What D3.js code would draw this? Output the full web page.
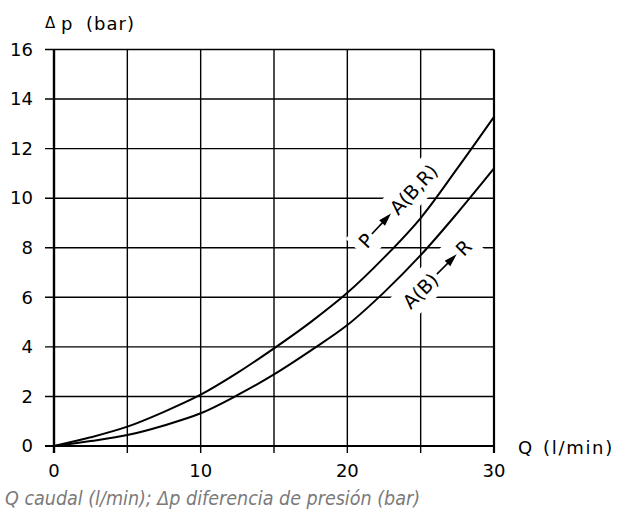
<!DOCTYPE html>
<html>
<head>
<meta charset="utf-8">
<script src="https://cdn.jsdelivr.net/npm/d3@7"></script>
<style>
  body { margin: 0; background: #fff; }
  text { font-family: "DejaVu Sans", sans-serif; }
</style>
</head>
<body>
<script>
// data
const flowQ = [0, 2.5, 5, 7.5, 10, 12.5, 15, 17.5, 20, 22.5, 25, 27.5, 30];
const dpPtoA = [0, 0.35, 0.78, 1.38, 2.07, 2.95, 3.94, 5.0, 6.18, 7.6, 9.2, 11.2, 13.28];
const dpAtoR = [0, 0.2, 0.44, 0.83, 1.32, 2.05, 2.89, 3.85, 4.88, 6.2, 7.7, 9.4, 11.2];
const xTicks = [0, 10, 20, 30];
const xGrid = [0, 5, 10, 15, 20, 25, 30];
const yTicks = [0, 2, 4, 6, 8, 10, 12, 14, 16];

const margin = {top: 49.5, right: 123, bottom: 67, left: 54};
const W = 617, H = 513;

const svg = d3.select("body").append("svg")
    .attr("width", W)
    .attr("height", H);

const x = d3.scaleLinear().domain([0, 30]).range([margin.left, W - margin.right]);
const y = d3.scaleLinear().domain([0, 16]).range([H - margin.bottom, margin.top]);

// grid
svg.append("g").selectAll("line.v")
    .data(xGrid)
    .join("line")
    .attr("x1", d => x(d)).attr("x2", d => x(d))
    .attr("y1", y(16)).attr("y2", y(0) + 7)
    .attr("stroke", "#000")
    .attr("stroke-width", d => d == 0 ? 2.4 : (d == 30 ? 2.2 : 1.4));

svg.append("g").selectAll("line.h")
    .data(yTicks)
    .join("line")
    .attr("x1", x(0) - 9).attr("x2", x(30))
    .attr("y1", d => y(d)).attr("y2", d => y(d))
    .attr("stroke", "#000")
    .attr("stroke-width", d => d == 0 ? 2.2 : 1.4);

// tick labels
svg.append("g").selectAll("text")
    .data(yTicks)
    .join("text")
    .attr("x", 33)
    .attr("y", d => y(d))
    .attr("dy", "0.35em")
    .attr("text-anchor", "end")
    .attr("font-size", 18)
    .text(d => d);

svg.append("g").selectAll("text")
    .data(xTicks)
    .join("text")
    .attr("x", d => x(d))
    .attr("y", 477)
    .attr("text-anchor", "middle")
    .attr("font-size", 18)
    .text(d => d);

// axis titles
const yt = svg.append("text").attr("y", 30).attr("font-size", 18);
yt.append("tspan").attr("x", 45).attr("font-size", 15).attr("dy", -2).text("\u0394");
yt.append("tspan").attr("x", 61).attr("dy", 2).text("p");
yt.append("tspan").attr("x", 86).style("letter-spacing", "1px").text("(bar)");

const xt = svg.append("text").attr("y", 454).attr("font-size", 18);
xt.append("tspan").attr("x", 518).text("Q");
xt.append("tspan").attr("x", 543).style("letter-spacing", "1.7px").text("(l/min)");

// curve labels (white box behind them cuts the grid)
function curveLabel(cx, cy, angle, left, right) {
  const g = svg.append("g").attr("transform", `translate(${cx},${cy}) rotate(${angle})`);
  const bg = g.append("rect").attr("fill", "#fff");
  const t1 = g.append("text").attr("font-size", 19).attr("dominant-baseline", "central").text(left);
  const w1 = t1.node().getComputedTextLength();
  const arrowLen = 28, gap = 3;
  const t2 = g.append("text").attr("font-size", 19).attr("dominant-baseline", "central").text(right);
  const w2 = t2.node().getComputedTextLength();
  const total = w1 + gap + arrowLen + gap + w2;
  const x0 = -total / 2;
  t1.attr("x", x0);
  const ax0 = x0 + w1 + gap, ax1 = ax0 + arrowLen;
  g.append("line")
    .attr("x1", ax0).attr("x2", ax1 - 10)
    .attr("y1", 0).attr("y2", 0)
    .attr("stroke", "#000").attr("stroke-width", 1.6);
  g.append("path")
    .attr("d", `M${ax1},0 L${ax1 - 13},-4 L${ax1 - 13},4 Z`)
    .attr("fill", "#000");
  t2.attr("x", ax1 + gap);
  bg.attr("x", x0 - 7).attr("y", -16).attr("width", total + 14).attr("height", 32);
  return g;
}

curveLabel(398, 206, -47, "P", "A(B,R)");
curveLabel(437, 274, -45, "A(B)", "R");

// curves
const line = d3.line()
    .x(d => x(d[0]))
    .y(d => y(d[1]))
    .curve(d3.curveCatmullRom);

svg.append("path")
    .datum(flowQ.map((q, i) => [q, dpPtoA[i]]))
    .attr("d", line)
    .attr("fill", "none")
    .attr("stroke", "#000")
    .attr("stroke-width", 2);

svg.append("path")
    .datum(flowQ.map((q, i) => [q, dpAtoR[i]]))
    .attr("d", line)
    .attr("fill", "none")
    .attr("stroke", "#000")
    .attr("stroke-width", 2);

// caption
svg.append("text")
    .attr("x", 5).attr("y", 505)
    .attr("font-family", "'Open Sans', sans-serif")
    .attr("font-style", "italic")
    .attr("font-size", 20)
    .attr("fill", "#7a7a7a")
    .attr("textLength", 415)
    .attr("lengthAdjust", "spacingAndGlyphs")
    .text("Q caudal (l/min); \u0394p diferencia de presi\u00f3n (bar)");
</script>
</body>
</html>
